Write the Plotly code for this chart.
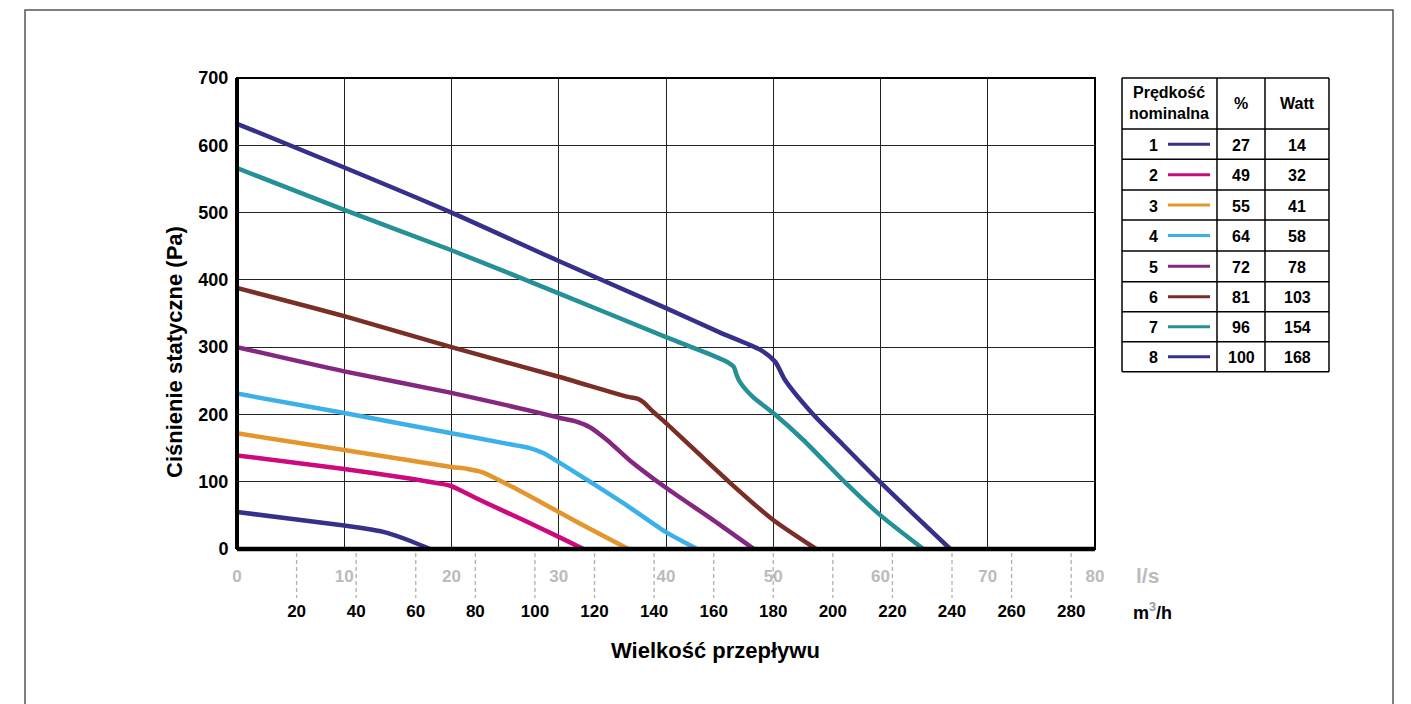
import plotly.graph_objects as go

# ---------------- data ----------------
speed_names = ["1", "2", "3", "4", "5", "6", "7", "8"]
speed_pct = ["27", "49", "55", "64", "72", "81", "96", "100"]
speed_watt = ["14", "32", "41", "58", "78", "103", "154", "168"]
colors = ["#35308a", "#cc0a7d", "#e3962b", "#3cb0e8", "#84287f", "#7a2e26", "#259096", "#35308a"]

flow_1 = [0, 5, 10, 12.5, 14, 16, 18]
pres_1 = [55, 45, 35, 29, 24, 13, 0]
flow_2 = [0, 10, 16.4, 18.6, 19.9, 21.1, 23.3, 26.7, 30, 32.3]
pres_2 = [139, 119, 104, 98, 94, 85, 68, 43, 18, 0]
flow_3 = [0, 10, 20, 21.5, 22.9, 25.7, 30, 33.6, 36.5]
pres_3 = [172, 147, 122, 119, 114, 92, 55, 24, 0]
flow_4 = [0, 10, 20, 25, 27.3, 28.5, 30.1, 32.9, 36.6, 40, 42.9]
pres_4 = [231, 202, 172, 157, 150, 143, 128, 100, 62, 25, 0]
flow_5 = [0, 10, 20, 28.3, 30, 31.5, 32.9, 34.5, 36.6, 40, 44.4, 48.2]
pres_5 = [300, 264, 232, 202, 195, 190, 181, 162, 132, 91, 43, 0]
flow_6 = [0, 10, 20, 30, 36.5, 37.4, 37.9, 38.8, 40, 46, 50, 54]
pres_6 = [388, 346, 300, 256, 226, 223, 218, 204, 187, 98, 43, 0]
flow_7 = [0, 10, 20, 30, 40, 44, 45.7, 46.3, 46.6, 46.9, 48.1, 50, 52.8, 56.7, 60, 64]
pres_7 = [566, 504, 444, 380, 315, 290, 278, 271, 258, 248, 226, 202, 162, 99, 50, 0]
flow_8 = [0, 10, 20, 30, 40, 45, 48.8, 50.2, 51.1, 53.6, 56.5, 60, 63, 66.5]
pres_8 = [632, 567, 500, 428, 358, 322, 296, 278, 251, 202, 155, 99, 53, 0]

ls_ticks = [0, 10, 20, 30, 40, 50, 60, 70, 80]
m3h_ticks = [20, 40, 60, 80, 100, 120, 140, 160, 180, 200, 220, 240, 260, 280]
p_ticks = [0, 100, 200, 300, 400, 500, 600, 700]

flows = [flow_1, flow_2, flow_3, flow_4, flow_5, flow_6, flow_7, flow_8]
pressures = [pres_1, pres_2, pres_3, pres_4, pres_5, pres_6, pres_7, pres_8]

# ---------------- layout helpers ----------------
OFF = 8  # page body margin
W, H = 1411 - OFF, 704 - OFF
L, R, T, B = 237, 1095, 78, 549  # plot area in screenshot pixels
FONT = "Liberation Sans, Arial, sans-serif"


def px(x):
    return (x - L) / (R - L)


def py(y):
    return (B - y) / (B - T)


fig = go.Figure()
for i, (fx, pv) in enumerate(zip(flows, pressures)):
    fig.add_trace(go.Scatter(
        x=fx, y=pv, mode="lines", name=speed_names[i],
        line=dict(color=colors[i], width=4.5, shape="spline", smoothing=0.7),
        showlegend=False, hoverinfo="skip"))

# helper trace for the secondary m3/h axis
fig.add_trace(go.Scatter(x=[0, 288], y=[0, 0], xaxis="x2", mode="markers",
                         marker=dict(size=1, opacity=0), showlegend=False, hoverinfo="skip"))

shapes = []
for v in m3h_ticks:
    shapes.append(dict(type="line", xref="x2", yref="paper", x0=v, x1=v,
                       y0=py(553), y1=py(598),
                       line=dict(color="#b0b0b0", width=1.3, dash="4px,3px")))
shapes.append(dict(type="rect", xref="paper", yref="paper", x0=0, x1=1, y0=0, y1=1,
                   line=dict(color="black", width=2)))
shapes.append(dict(type="line", xref="paper", yref="paper", x0=0, x1=0, y0=0, y1=1,
                   line=dict(color="black", width=4)))
shapes.append(dict(type="line", xref="paper", yref="paper", x0=0, x1=1, y0=0, y1=0,
                   line=dict(color="black", width=4.5)))
shapes.append(dict(type="rect", xref="paper", yref="paper", x0=px(25), x1=px(1393),
                   y0=py(760), y1=py(10), line=dict(color="#555555", width=1.5)))

cols = [1122, 1217, 1265, 1329]
rows = [78, 129, 159.3, 190, 220, 251, 281.7, 311.7, 341.7, 371.7]
for cx in cols:
    shapes.append(dict(type="line", xref="paper", yref="paper", x0=px(cx), x1=px(cx),
                       y0=py(rows[-1]), y1=py(rows[0]), line=dict(color="black", width=1.5)))
for ry in rows:
    shapes.append(dict(type="line", xref="paper", yref="paper", x0=px(cols[0]), x1=px(cols[-1]),
                       y0=py(ry), y1=py(ry), line=dict(color="black", width=1.5)))

annotations = []


def ann(x, y, text, size, color="black", **kw):
    annotations.append(dict(xref="paper", yref="paper", x=px(x), y=py(y), text=text,
                            showarrow=False, xanchor="center", yanchor="middle",
                            font=dict(family=FONT, size=size, color=color), **kw))


ann(1169, 103, "<b>Prędkość<br>nominalna</b>", 16)
ann(1241, 103, "<b>%</b>", 16)
ann(1297, 103, "<b>Watt</b>", 16)
for i in range(8):
    cy = (rows[i + 1] + rows[i + 2]) / 2
    ann(1153, cy + 1, "<b>%s</b>" % speed_names[i], 16)
    ann(1241, cy + 1, "<b>%s</b>" % speed_pct[i], 16)
    ann(1297, cy + 1, "<b>%s</b>" % speed_watt[i], 16)
    shapes.append(dict(type="line", xref="paper", yref="paper", x0=px(1168), x1=px(1210),
                       y0=py(cy), y1=py(cy), line=dict(color=colors[i], width=3)))

ann(174, 352, "<b>Ciśnienie statyczne (Pa)</b>", 22, textangle=-90)
ann(715, 650, "<b>Wielkość przepływu</b>", 22)
ann(1147, 575, "<b>l/s</b>", 21, color="#bbbbbb")
ann(1152, 611, "<b>m<sup><span style='color:#999'>3</span></sup>/h</b>", 18)

fig.update_layout(
    width=W, height=H,
    margin=dict(l=L - OFF, r=W - (R - OFF), t=T - OFF, b=H - (B - OFF)),
    paper_bgcolor="white", plot_bgcolor="white",
    xaxis=dict(range=[0, 80], tickvals=ls_ticks, ticktext=["<b>%d</b>" % v for v in ls_ticks],
               showgrid=True, gridcolor="#222222", gridwidth=1.2, zeroline=False,
               showline=False, ticks="outside", ticklen=12, tickcolor="rgba(0,0,0,0)",
               tickfont=dict(family=FONT, size=17, color="#bbbbbb")),
    xaxis2=dict(range=[0, 288], overlaying="x", anchor="y", side="bottom",
                tickvals=m3h_ticks, ticktext=["<b>%d</b>" % v for v in m3h_ticks],
                showgrid=False, zeroline=False, showline=False,
                ticks="outside", ticklen=47, tickcolor="rgba(0,0,0,0)",
                tickfont=dict(family=FONT, size=17, color="black")),
    yaxis=dict(range=[0, 700], tickvals=p_ticks, ticktext=["<b>%d</b>" % v for v in p_ticks],
               showgrid=True, gridcolor="#222222", gridwidth=1.2, zeroline=False,
               showline=False, ticks="outside", ticklen=4, tickcolor="rgba(0,0,0,0)",
               tickfont=dict(family=FONT, size=18, color="black")),
    shapes=shapes, annotations=annotations,
)

fig.write_html("out.html")
